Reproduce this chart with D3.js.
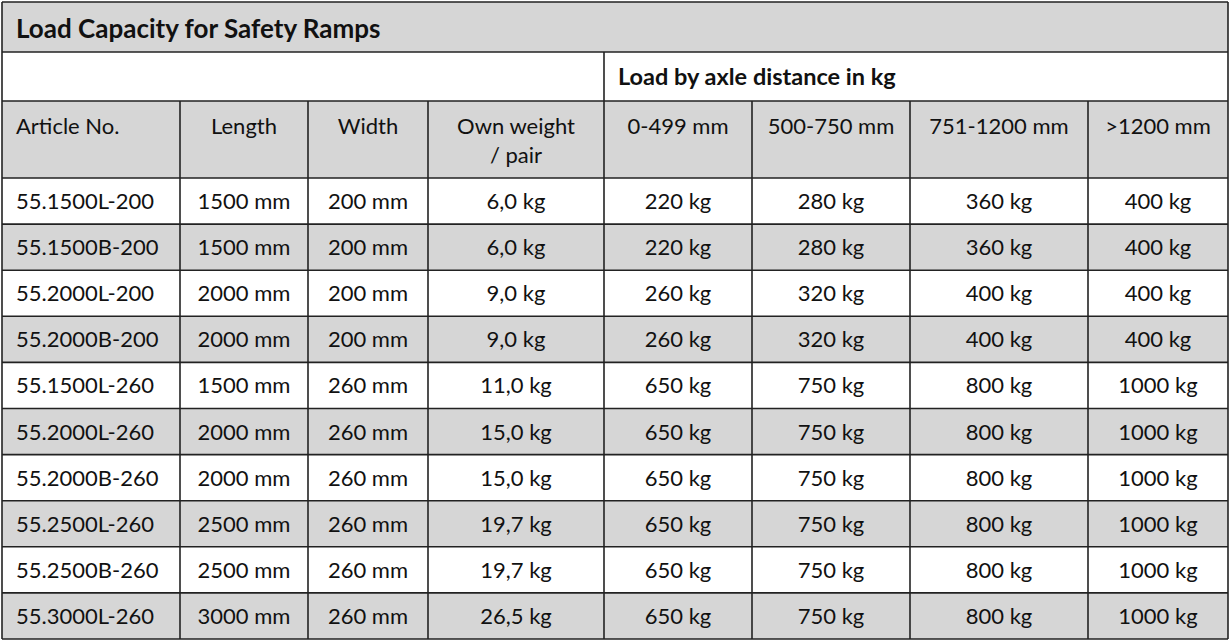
<!DOCTYPE html><html><head><meta charset="utf-8">
<script src="https://cdn.jsdelivr.net/npm/d3@7"></script>
<style>body{margin:0;background:#fff}text{font-family:Lato,"Open Sans",sans-serif;fill:#111}</style></head><body>
<svg id="c" width="1232" height="644"></svg>
<script>
const title = "Load Capacity for Safety Ramps";
const groupHeader = "Load by axle distance in kg";
const headers = ["Article No.","Length","Width","Own weight\n/ pair","0-499 mm","500-750 mm","751-1200 mm",">1200 mm"];
const articles = ["55.1500L-200","55.1500B-200","55.2000L-200","55.2000B-200","55.1500L-260","55.2000L-260","55.2000B-260","55.2500L-260","55.2500B-260","55.3000L-260"];
const lengths = [1500,1500,2000,2000,1500,2000,2000,2500,2500,3000];
const widths = [200,200,200,200,260,260,260,260,260,260];
const weights = ["6,0","6,0","9,0","9,0","11,0","15,0","15,0","19,7","19,7","26,5"];
const load0 = [220,220,260,260,650,650,650,650,650,650];
const load1 = [280,280,320,320,750,750,750,750,750,750];
const load2 = [360,360,400,400,800,800,800,800,800,800];
const load3 = [400,400,400,400,1000,1000,1000,1000,1000,1000];

const colX = [2,180,308,428,604,752,910,1088,1228];
const svg = d3.select("#c");
const grey = "#d6d6d6", line = "#222";
const y = d3.scaleBand().domain(d3.range(articles.length)).range([178,639]);
svg.append("rect").attr("x",2).attr("y",2).attr("width",1226).attr("height",50).attr("fill",grey);
svg.append("text").attr("x",16).attr("y",38).attr("font-size",26).attr("font-weight","bold").text(title);
svg.append("rect").attr("x",2).attr("y",101).attr("width",1226).attr("height",77).attr("fill",grey);
svg.append("text").attr("x",618).attr("y",85).attr("font-size",23.5).attr("font-weight","bold").text(groupHeader);
headers.forEach((h,i)=>{
  const lines=h.split("\n");
  const t=svg.append("text").attr("font-size",22).attr("text-anchor",i==0?"start":"middle");
  lines.forEach((l,k)=>t.append("tspan").attr("x",i==0?16:(colX[i]+colX[i+1])/2).attr("y",134+k*29).text(l));
});
const rows = articles.map((a,i)=>[a,lengths[i]+" mm",widths[i]+" mm",weights[i]+" kg",load0[i]+" kg",load1[i]+" kg",load2[i]+" kg",load3[i]+" kg"]);
rows.forEach((r,i)=>{
  if(i%2==1) svg.append("rect").attr("x",2).attr("y",y(i)).attr("width",1226).attr("height",y.bandwidth()).attr("fill",grey);
  r.forEach((v,j)=>svg.append("text").attr("font-size",22).attr("text-anchor",j==0?"start":"middle")
    .attr("x",j==0?16:(colX[j]+colX[j+1])/2).attr("y",y(i)+y.bandwidth()/2+8).text(v));
});
const g=svg.append("g").attr("stroke",line).attr("stroke-width",1.6);
[2,52,101,178].concat(d3.range(1,articles.length).map(i=>y(i))).concat([639]).forEach(yy=>g.append("line").attr("x1",2).attr("x2",1228).attr("y1",yy).attr("y2",yy));
colX.forEach((x,i)=>{
  const y0 = (i==0||i==8)?2:(i==4?52:101);
  g.append("line").attr("x1",x).attr("x2",x).attr("y1",y0).attr("y2",639);
});
</script></body></html>
